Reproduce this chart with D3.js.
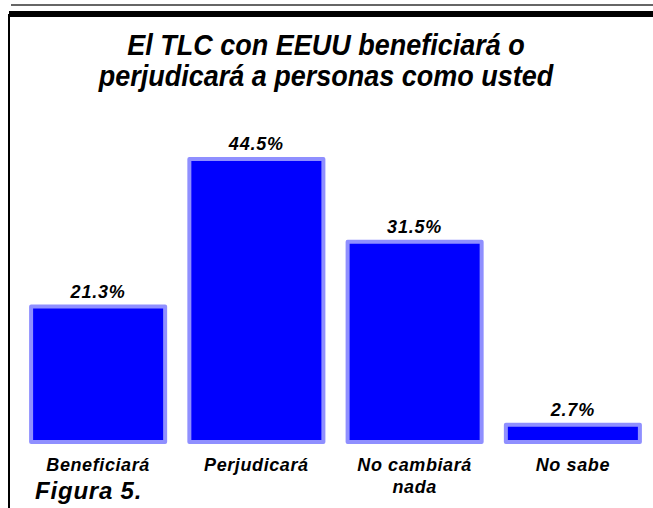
<!DOCTYPE html>
<html>
<head>
<meta charset="utf-8">
<script src="https://cdn.jsdelivr.net/npm/d3@7"></script>
<style>
  body { margin: 0; background: #fff; }
  svg { display: block; }
  text { font-family: "Liberation Sans", Arial, sans-serif; font-weight: bold; font-style: italic; fill: #000; }
</style>
</head>
<body>
<svg id="chart" width="653" height="508"></svg>
<script>
// datos
var categorias = [["Beneficiará"], ["Perjudicará"], ["No cambiará", "nada"], ["No sabe"]];
var valores = [21.3, 44.5, 31.5, 2.7];
var titulo = ["El TLC con EEUU beneficiará o", "perjudicará a personas como usted"];
var pie = "Figura 5.";

var svg = d3.select("#chart"),
    width = +svg.attr("width"),
    height = +svg.attr("height");

// marco: linea gris, barra negra y borde izquierdo
svg.append("rect").attr("x", 11).attr("y", 4).attr("width", width - 11).attr("height", 2).attr("fill", "#666");
svg.append("rect").attr("x", 9).attr("y", 11).attr("width", width - 9).attr("height", 6).attr("fill", "#000");
svg.append("rect").attr("x", 8).attr("y", 14).attr("width", 2).attr("height", height - 14).attr("fill", "#000");

// titulo algo mas estrecho que Arial normal
svg.append("g").selectAll("text")
    .data(titulo)
    .enter().append("text")
    .attr("transform", function(d, i) { return "translate(326," + (55 + i * 31) + ") scale(0.9,1)"; })
    .attr("text-anchor", "middle")
    .style("font-size", "30px")
    .text(function(d) { return d; });

var x = d3.scaleBand()
    .domain(d3.range(valores.length))
    .range([19, 652])
    .paddingInner(0.153)
    .paddingOuter(0.0765);

var y = d3.scaleLinear()
    .domain([0, 44.5])
    .range([442, 442 - 283]);

var barras = svg.append("g");

barras.selectAll("rect")
    .data(valores)
    .enter().append("rect")
    .attr("x", function(d, i) { return x(i); })
    .attr("y", function(d) { return y(d); })
    .attr("width", x.bandwidth())
    .attr("height", function(d) { return y(0) - y(d); })
    .attr("fill", "#0000ff")
    .attr("stroke", "#8f8fff")
    .attr("stroke-width", 4)
    .attr("stroke-linejoin", "round");

barras.selectAll("text.valor")
    .data(valores)
    .enter().append("text")
    .attr("class", "valor")
    .attr("x", function(d, i) { return x(i) + x.bandwidth() / 2; })
    .attr("y", function(d) { return y(d) - 9; })
    .attr("text-anchor", "middle")
    .style("font-size", "18px")
    .style("letter-spacing", "0.8px")
    .text(function(d) { return d.toFixed(1) + "%"; });

var etiquetas = svg.append("g").selectAll("text")
    .data(categorias)
    .enter().append("text")
    .attr("text-anchor", "middle")
    .attr("transform", function(d, i) { return "translate(" + (x(i) + x.bandwidth() / 2) + ",471)"; })
    .style("font-size", "18px")
    .style("letter-spacing", "0.6px");

etiquetas.selectAll("tspan")
    .data(function(d) { return d; })
    .enter().append("tspan")
    .attr("x", 0)
    .attr("dy", function(d, i) { return i ? 22 : 0; })
    .text(function(d) { return d; });

svg.append("text")
    .attr("x", 35)
    .attr("y", 499)
    .style("font-size", "24px")
    .style("letter-spacing", "0.8px")
    .text(pie);
</script>
</body>
</html>
